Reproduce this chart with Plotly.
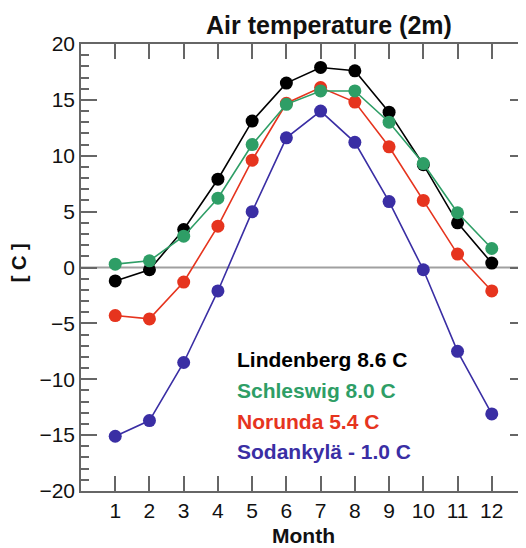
import plotly.graph_objects as go

months = list(range(1, 13))
lindenberg = [-1.2, -0.2, 3.4, 7.9, 13.1, 16.5, 17.9, 17.6, 13.9, 9.2, 4.0, 0.4]
schleswig = [0.3, 0.6, 2.8, 6.2, 11.0, 14.6, 15.8, 15.8, 13.0, 9.3, 4.9, 1.7]
norunda = [-4.3, -4.6, -1.3, 3.7, 9.6, 14.7, 16.1, 14.8, 10.8, 6.0, 1.2, -2.1]
sodankyla = [-15.1, -13.7, -8.5, -2.1, 5.0, 11.6, 14.0, 11.2, 5.9, -0.2, -7.5, -13.1]

legend_labels = ["Lindenberg 8.6 C", "Schleswig 8.0 C", "Norunda 5.4 C", "Sodankylä - 1.0 C"]
colors = ["#000000", "#2e9e66", "#e6341e", "#3a2ea4"]
y_ticks = [-20, -15, -10, -5, 0, 5, 10, 15, 20]

FONT = "Liberation Sans, Arial, sans-serif"

fig = go.Figure()

# zero line
fig.add_shape(type="line", xref="paper", x0=0, x1=1, yref="y", y0=0, y1=0,
              line=dict(color="#a0a0a0", width=2), layer="below")

series = [("Lindenberg", lindenberg, colors[0]),
          ("Sodankylä", sodankyla, colors[3]),
          ("Norunda", norunda, colors[2]),
          ("Schleswig", schleswig, colors[1])]
for name, vals, col in series:
    fig.add_trace(go.Scatter(x=months, y=vals, mode="lines+markers", name=name,
                             line=dict(color=col, width=1.6),
                             marker=dict(color=col, size=13),
                             showlegend=False))

legend_y = [-8.2, -11.0, -13.75, -16.5]
for lab, col, yy in zip(legend_labels, colors, legend_y):
    fig.add_annotation(x=4.49, y=yy, xref="x", yref="y", text=lab, showarrow=False,
                       xanchor="left", yanchor="middle",
                       font=dict(family=FONT, size=21, color=col, weight="bold"))

# title and axis titles as annotations
fig.add_annotation(x=0.557, y=1.079, xref="paper", yref="paper",
                   text="<b>Air temperature (2m)</b>", showarrow=False,
                   xanchor="center", yanchor="top",
                   font=dict(family=FONT, size=25, color="#111"))
fig.add_annotation(x=0.501, y=-0.1, xref="paper", yref="paper",
                   text="<b>Month</b>", showarrow=False,
                   xanchor="center", yanchor="middle",
                   font=dict(family=FONT, size=21, color="#111"))
fig.add_annotation(x=-0.139, y=0.51, xref="paper", yref="paper",
                   text="<b>[ C ]</b>", showarrow=False, textangle=-90,
                   xanchor="center", yanchor="middle",
                   font=dict(family=FONT, size=20, color="#111"))

# page body has an 8px margin, so the figure is sized to fit the window
fig.update_layout(
    width=518, height=540,
    margin=dict(l=73, r=0, t=36, b=57, autoexpand=False),
    paper_bgcolor="white", plot_bgcolor="white",
    font=dict(family=FONT, size=20, color="#111"),
)

fig.update_xaxes(range=[0, 13], tickvals=months, ticktext=[str(m) for m in months],
                 ticks="inside", ticklen=15, tickwidth=1.5, tickcolor="#666",
                 showline=True, linecolor="#666", linewidth=1.5, mirror="ticks",
                 showgrid=False, zeroline=False, automargin=False,
                 tickfont=dict(family=FONT, size=21, color="#111"))

fig.update_yaxes(range=[-20, 20], tickvals=y_ticks,
                 ticks="inside", ticklen=16, tickwidth=1.5, tickcolor="#666",
                 minor=dict(dtick=1, ticks="inside", ticklen=8, tickwidth=1.5,
                            tickcolor="#666", showgrid=False),
                 showline=True, linecolor="#666", linewidth=1.5, mirror="ticks",
                 showgrid=False, zeroline=False, automargin=False,
                 tickfont=dict(family=FONT, size=21, color="#111"))

fig.write_html("out.html")
